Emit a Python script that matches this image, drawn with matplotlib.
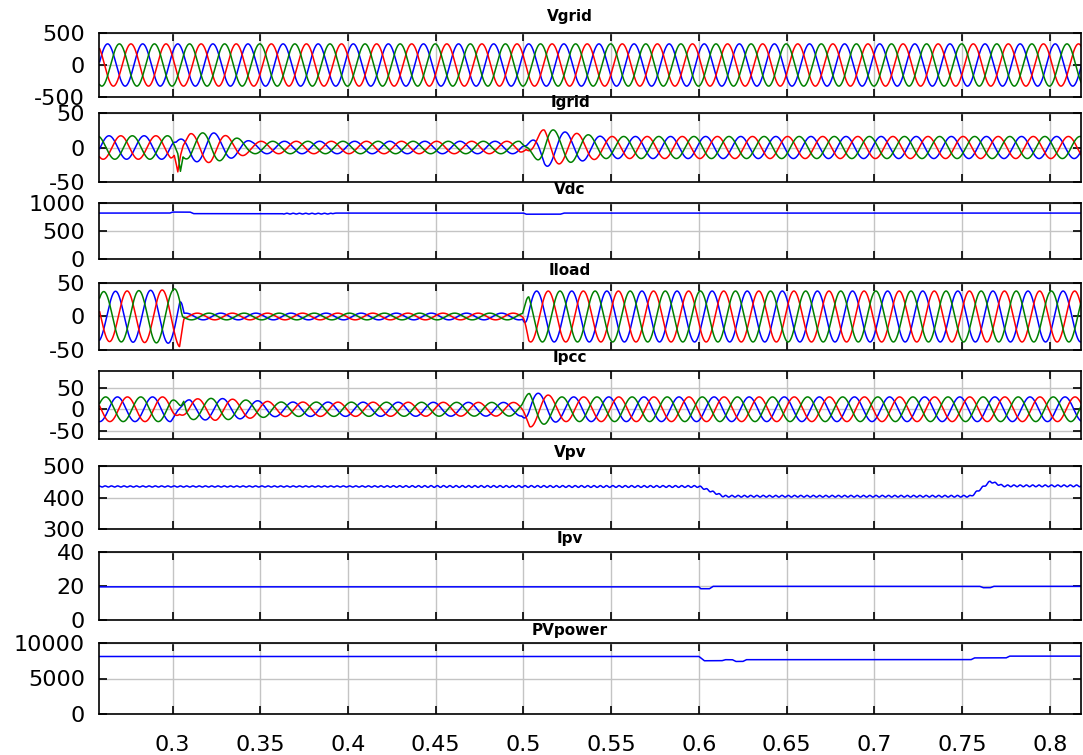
import numpy as np
import matplotlib

matplotlib.use("Agg")
import matplotlib.pyplot as plt

plt.rcParams['font.family'] = ['DejaVu Sans']
plt.rcParams['axes.unicode_minus'] = False

F = 50.0  # grid frequency, Hz
t = np.arange(0.2585, 0.8180, 1e-4)

# ---- three-phase signals: first peak time per phase (blue, red, green),
# ---- amplitude envelope breakpoints, and transient offsets
vgrid_peak = [0.2630, 0.2763, 0.2697]
vgrid_env_t = [0.258, 0.820]
vgrid_env_a = [330, 330]

igrid_peak = [0.2638, 0.2705, 0.2571]
igrid_env_t = [0.258, 0.299, 0.302, 0.310, 0.322, 0.345, 0.498, 0.5015, 0.512, 0.522, 0.545, 0.820]
igrid_env_a = [17, 17, 9, 20, 22, 9, 9, 3, 28, 23, 16, 16]
igrid_off_t = [0.3010, 0.3030, 0.3045, 0.3060]
igrid_off_red = [0, -28, -8, 0]
igrid_off_green = [0, -6, -26, 0]

iload_peak = [0.2675, 0.2741, 0.2608]
iload_env_t = [0.258, 0.300, 0.304, 0.3065, 0.4995, 0.503, 0.820]
iload_env_a = [37, 40, 45, 5, 5, 38, 38]

ipcc_peak = [0.2686, 0.2743, 0.2619]
ipcc_env_t = [0.258, 0.299, 0.304, 0.310, 0.325, 0.360, 0.499, 0.5035, 0.508, 0.520, 0.820]
ipcc_env_a = [29, 29, 12, 24, 26, 17, 16, 42, 38, 29, 29]
ipcc_off_t = [0.3050, 0.3064, 0.3080]
ipcc_off_green = [0, 16, 0]

# ---- slow DC-side signals: level breakpoints and ripple
vdc_t = [0.258, 0.2985, 0.300, 0.310, 0.312, 0.391, 0.393, 0.500, 0.5015, 0.521, 0.523, 0.820]
vdc_v = [820, 820, 838, 838, 810, 810, 820, 820, 800, 800, 820, 820]
vdc_rip_t = [0.258, 0.362, 0.363, 0.391, 0.392, 0.820]
vdc_rip_a = [0, 0, 7, 7, 0, 0]

vpv_t = [0.258, 0.600, 0.614, 0.755, 0.766, 0.773, 0.820]
vpv_v = [435, 435, 404, 404, 451, 437, 437]
vpv_rip_t = [0.258, 0.40, 0.45, 0.820]
vpv_rip_a = [1.8, 1.8, 2.8, 2.8]

ipv_t = [0.258, 0.600, 0.601, 0.606, 0.608, 0.760, 0.762, 0.766, 0.768, 0.820]
ipv_v = [19.5, 19.5, 18.4, 18.4, 19.8, 19.8, 19.0, 19.0, 19.8, 19.8]

pv_t = [0.258, 0.600, 0.603, 0.613, 0.615, 0.619, 0.621, 0.625, 0.627, 0.755, 0.757, 0.775, 0.777, 0.820]
pv_v = [8100, 8100, 7500, 7500, 7650, 7650, 7400, 7400, 7650, 7650, 7900, 7900, 8150, 8150]

RIPPLE_F = 280.0
BLUE, RED, GREEN = "#0000ff", "#ff0000", "#008000"


def wave(peak, env_t, env_a, off_t=None, off_v=None):
    y = np.interp(t, env_t, env_a) * np.cos(2 * np.pi * F * (t - peak))
    if off_t is not None:
        y = y + np.interp(t, off_t, off_v, left=0, right=0)
    return y


def three(peaks, env_t, env_a, offs=(None, None, None)):
    out = []
    for p, o in zip(peaks, offs):
        if o is None:
            out.append(wave(p, env_t, env_a))
        else:
            out.append(wave(p, env_t, env_a, o[0], o[1]))
    return out


series = {
    "Vgrid": three(vgrid_peak, vgrid_env_t, vgrid_env_a),
    "Igrid": three(igrid_peak, igrid_env_t, igrid_env_a,
                   (None, (igrid_off_t, igrid_off_red), (igrid_off_t, igrid_off_green))),
    "Vdc": [np.interp(t, vdc_t, vdc_v)
            + np.interp(t, vdc_rip_t, vdc_rip_a) * np.sin(2 * np.pi * RIPPLE_F * t)],
    "Iload": three(iload_peak, iload_env_t, iload_env_a),
    "Ipcc": three(ipcc_peak, ipcc_env_t, ipcc_env_a,
                  (None, None, (ipcc_off_t, ipcc_off_green))),
    "Vpv": [np.interp(t, vpv_t, vpv_v)
            + np.interp(t, vpv_rip_t, vpv_rip_a) * np.sin(2 * np.pi * RIPPLE_F * t)],
    "Ipv": [np.interp(t, ipv_t, ipv_v)],
    "PVpower": [np.interp(t, pv_t, pv_v)],
}

# name, top px, bottom px, title y px, ylim, yticks
panels = [
    ("Vgrid", 33, 97, 17, (-500, 500), [-500, 0, 500]),
    ("Igrid", 113, 182, 103, (-50, 50), [-50, 0, 50]),
    ("Vdc", 203, 259, 190, (0, 1000), [0, 500, 1000]),
    ("Iload", 283, 350, 270, (-50, 50), [-50, 0, 50]),
    ("Ipcc", 371, 439, 357, (-70, 90), [-50, 0, 50]),
    ("Vpv", 466, 529, 452, (300, 500), [300, 400, 500]),
    ("Ipv", 552, 620, 538, (0, 40), [0, 20, 40]),
    ("PVpower", 643, 714, 630, (0, 10000), [0, 5000, 10000]),
]

W, H = 1083, 755
fig = plt.figure(figsize=(W / 100, H / 100), dpi=100)
x0, x1 = 99, 1081
xticks = np.round(np.arange(0.3, 0.801, 0.05), 2)

for i, (name, top, bot, ty, ylim, yticks) in enumerate(panels):
    ax = fig.add_axes([x0 / W, 1 - bot / H, (x1 - x0) / W, (bot - top) / H])
    ys = series[name]
    colors = [BLUE] if len(ys) == 1 else [BLUE, RED, GREEN]
    for y, c in zip(ys, colors):
        ax.plot(t, y, color=c, lw=1.1)
    ax.set_xlim(0.2581, 0.8177)
    ax.set_ylim(*ylim)
    ax.set_yticks(yticks)
    ax.set_xticks(xticks)
    ax.grid(True, color="#c4c4c4", lw=1.0)
    ax.set_axisbelow(True)
    ax.tick_params(direction="in", length=6, width=1.2, top=True, right=True,
                   labelsize=16, pad=10, colors="black")
    ax.tick_params(axis="x", pad=15)
    for s in ax.spines.values():
        s.set_linewidth(1.2)
    if i < len(panels) - 1:
        ax.set_xticklabels([])
    else:
        ax.set_xticklabels([f"{v:g}" for v in xticks])
    fig.text(570 / W, 1 - ty / H, name, ha="center", va="center",
             fontsize=11, fontweight="bold")

fig.savefig("out.png", dpi=100)
